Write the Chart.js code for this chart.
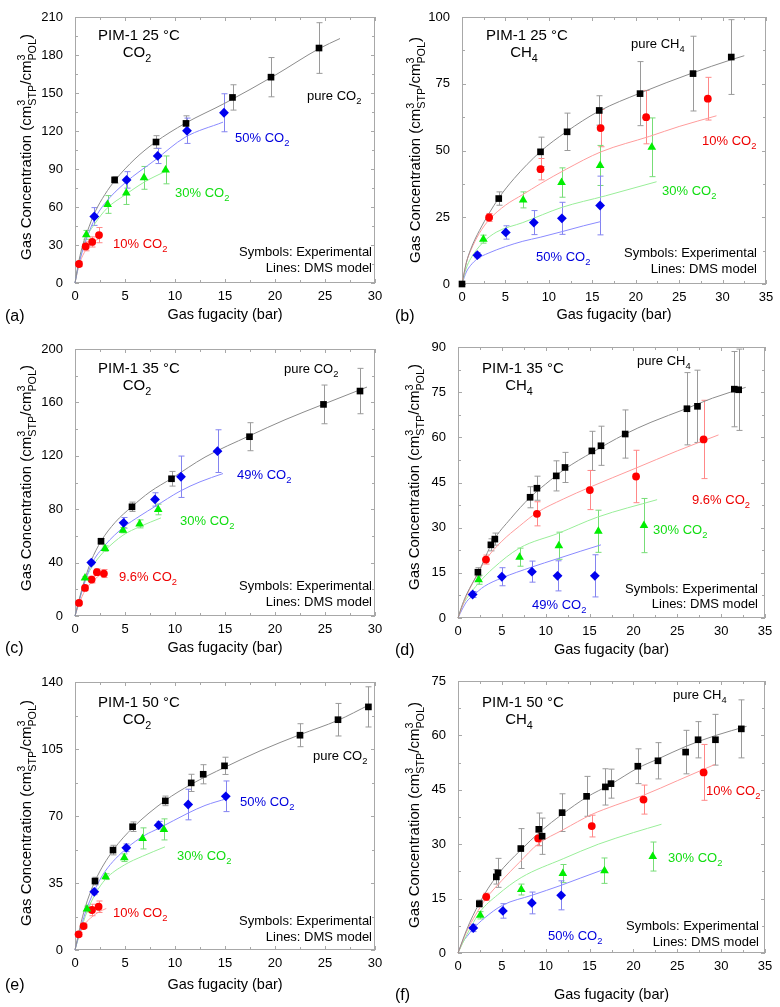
<!DOCTYPE html>
<html lang="en">
<head>
<meta charset="UTF-8">
<title>PIM-1 mixed-gas sorption, DMS model</title>
<script src="https://cdn.jsdelivr.net/npm/chart.js"></script>
<style>
  html, body { margin: 0; padding: 0; background: #fff; }
  #wrap { position: relative; width: 780px; height: 1007px; }
  #wrap canvas { position: absolute; }
</style>
</head>
<body>
<div id="wrap">
  <canvas id="pa" width="390" height="335" style="left:0;top:0"></canvas>
  <canvas id="pb" width="390" height="335" style="left:390px;top:0"></canvas>
  <canvas id="pc" width="390" height="335" style="left:0;top:335px"></canvas>
  <canvas id="pd" width="390" height="335" style="left:390px;top:335px"></canvas>
  <canvas id="pe" width="390" height="337" style="left:0;top:670px"></canvas>
  <canvas id="pf" width="390" height="337" style="left:390px;top:670px"></canvas>
</div>
<script>
// experimental points: [fugacity (bar), concentration, error]
// model lines (DMS): [fugacity, concentration]

// (a) 25 C, CO2
const aPure = [[3.96,81.4,2.5],[8.1,111.3,5],[11.1,126,6],[15.75,146.5,10],[19.6,162.5,15.5],[24.4,185.5,20]];
const a50 = [[1.93,52.5,7],[5.16,81.4,6.5],[8.27,100.3,6],[11.2,120.2,10],[14.9,134.4,15]];
const a30 = [[1.13,38,3.5],[3.26,62,7],[5.13,71,9],[6.9,83,9],[9.06,89.3,11]];
const a10 = [[0.4,15,2],[1.07,28.9,3.5],[1.72,32.4,4],[2.4,37.8,6]];
const aPureFit = [[0,0],[0.3,14],[0.7,28],[1.2,40],[2,56],[3,70],[4,81],[6,98],[8,111],[11,126],[15,142],[20,164],[24.4,185],[26.5,193]];
const a50Fit = [[0,0],[0.3,12],[0.7,24],[1.2,36],[2,51],[3,63],[5,79],[8,97],[11,115],[14.8,127]];
const a30Fit = [[0,0],[0.3,12],[0.7,25],[1.1,35],[2,47],[3.2,59],[5,69.5],[7,80],[9,88]];
const a10Fit = [[0,0],[0.4,14],[1,25],[1.7,31.5],[2.6,36]];

// (b) 25 C, CH4
const bPure = [[0,0,0],[4.23,32,2.5],[9.04,49.5,5.5],[12.1,57,7],[15.8,65,5.5],[20.5,71.3,12],[26.6,78.8,14],[31,85,14]];
const b10 = [[3.12,24.9,1.5],[9.04,43,4],[15.96,58.4,7],[21.2,62.5,10],[28.3,69.4,8]];
const b30 = [[2.46,16.8,1.5],[7.04,31.5,3],[11.46,38,5.5],[15.9,44.4,7.5],[21.85,51.2,11]];
const b50 = [[1.77,10.8,1],[5.04,19.3,2.5],[8.27,23,4.5],[11.5,24.6,6],[15.9,29.4,11]];
const bPureFit = [[0,0],[0.5,8],[1,13],[2,20],[4.2,32],[6,39.5],[9,49.5],[12,57],[15.8,64.8],[20.5,71.5],[26.5,79],[31,84],[32.5,85.5]];
const b10Fit = [[0,0],[0.5,8],[1,12.5],[2,19],[3.1,24],[5,29.5],[7,33.5],[9,37.5],[12,43],[16,49.5],[21.6,55.3],[25,59],[29.3,63]];
const b30Fit = [[0,0],[0.5,6],[1,9.5],[2.4,15.5],[4,19.5],[7,23],[11.5,28.7],[16.5,33],[22.4,38.3]];
const b50Fit = [[0,0],[0.5,4.5],[1,7],[1.8,9.5],[3,11.5],[5,14],[7,16],[9,17.5],[11.5,19.6],[14,21.8],[16,23.4]];

// (c) 35 C, CO2
const cPure = [[2.6,56,2],[5.7,81.8,3.5],[9.65,102.8,5.5],[17.45,134.3,10.5],[24.85,158.5,14.5],[28.5,168.5,17]];
const c49 = [[1.63,40,1.5],[4.86,69.8,4],[8.0,87.3,5],[10.6,104.3,15.5],[14.25,123.5,16]];
const c30 = [[1.0,28.5,1],[3.0,50.5,2],[4.8,64.3,2],[6.46,69,3],[8.32,79.8,4]];
const c96 = [[0.4,9.8,1],[1.0,21,2],[1.66,27.3,2.5],[2.19,32.8,2.5],[2.89,31.8,3]];
const cPureFit = [[0,0],[0.4,12],[0.8,23],[1.6,41],[2.6,56],[4,70],[5.7,82],[7.5,93],[9.65,103],[13,119],[17.45,135],[21,147],[24.8,158.5],[29.2,171.5]];
const c49Fit = [[0,0],[0.4,11],[0.8,21],[1.6,38],[3,53],[4.86,66.5],[6.5,75],[8,82],[10.5,93.5],[12.5,100.5],[14.8,106.7]];
const c30Fit = [[0,0],[0.4,11],[1,26.5],[2,40],[3,49],[4.8,60.5],[6.5,67],[8.6,73.5]];
const c96Fit = [[0,0],[0.4,9],[1,19],[1.7,25.5],[2.2,29],[3.06,34]];

// (d) 35 C, CH4
const dPure = [[2.27,15.2,1.5],[3.75,24.3,2],[4.2,26.2,2],[8.22,40.1,3.5],[9.0,43.1,4],[11.2,47.2,5],[12.2,50,5],[15.26,55.5,6.5],[16.3,57.2,6.5],[19.06,61.1,8],[26.1,69.5,12],[27.3,70.3,12],[31.5,76,12.5],[32,75.8,13.5]];
const d96 = [[3.19,19.4,1.5],[9.0,34.6,4],[15.03,42.5,6.5],[20.3,47,8.7],[28,59.3,13]];
const d30 = [[2.35,12.7,1.5],[7.02,20.2,3],[11.5,24,4.5],[16.0,28.8,7],[21.2,30.7,9]];
const d49 = [[1.67,7.8,1],[5.0,13.7,3],[8.43,15.4,3.5],[11.35,14,5],[15.6,14,7]];
const dPureFit = [[0,0],[0.5,4.5],[1,8],[2.3,15],[4,25.5],[6,33],[8.2,40],[10,44.5],[12.2,49.5],[15.3,55],[19,61],[22,65],[26,69.5],[29,73],[32.8,76.6]];
const d96Fit = [[0,0],[0.5,4],[1,7.5],[2,13.5],[3.2,19.5],[5,25.5],[7,30.5],[9,35],[12,39.5],[15,43.4],[20.3,49.8],[25,55.5],[29.7,60.8]];
const d30Fit = [[0,0],[0.5,4],[1,6.5],[2.35,11.6],[4,16.5],[7,23.2],[11.5,28.2],[15.9,33.5],[22.7,39.3]];
const d49Fit = [[0,0],[0.5,3],[1,5.5],[1.7,7.4],[3,10.5],[5,13.3],[8.4,16.9],[11.35,19.7],[14,22.2],[16.3,24.3]];

// (e) 50 C, CO2
const ePure = [[2.0,36,2],[3.8,52.2,2.5],[5.76,64.4,2.5],[9.03,77.9,2.5],[11.62,87.3,4.5],[12.82,91.8,5],[14.95,96.2,4.5],[22.5,112.2,6],[26.3,120.3,8.5],[29.34,127,10.5]];
const e50 = [[1.93,30.4,1.5],[5.13,53.4,2],[8.36,65.2,2],[11.32,76,8],[15.08,80.3,8]];
const e30 = [[1.2,21.4,1.5],[3.06,38.3,1.5],[4.93,48.2,2],[6.76,58.3,5.5],[8.89,63,5.5]];
const e10 = [[0.36,8.2,1],[0.86,12.5,1],[1.7,20.9,3],[2.36,22.6,3]];
const ePureFit = [[0,0],[0.5,12],[1,22],[2,36],[3.8,52],[5.8,64],[9,78],[11.6,86.5],[15,95.5],[18.5,104],[22.5,112.5],[26.3,120],[29.4,128]];
const e50Fit = [[0,0],[0.5,10],[1,19],[1.93,31],[3,41],[5.13,53],[7,60],[8.36,63.5],[11.3,71.5],[13,75.5],[15.2,79.1]];
const e30Fit = [[0,0],[0.5,9],[1.2,20],[2,29],[3.06,37],[4.93,44.4],[6.76,49],[9,53.9]];
const e10Fit = [[0,0],[0.36,7],[1.06,14],[1.7,17.3],[2.36,19.8],[3.13,21.7]];

// (f) 50 C, CH4
const fPure = [[2.43,13.6,1],[4.37,21,2],[4.56,22.1,4],[7.16,28.8,5.5],[9.21,34.1,4.5],[9.59,32.2,5],[11.87,38.7,5.2],[14.66,43.2,5.5],[16.8,45.8,5],[17.44,46.7,4],[20.5,51.5,4.8],[22.8,53,5],[25.95,55.4,6],[27.37,58.8,5],[29.35,58.8,7],[32.3,61.8,8]];
const f10 = [[3.22,15.5,1],[9.14,31.6,2],[15.25,35,3],[21.15,42.3,4],[28,49.8,7.7]];
const f30 = [[2.54,10.4,1],[7.21,17.5,1.5],[11.95,21.9,2.5],[16.7,22.7,3.5],[22.2,26.6,4]];
const f50 = [[1.74,6.9,1],[5.12,11.6,2],[8.42,13.8,3],[11.76,15.9,4]];
const fPureFit = [[0,0],[1,6.5],[2.4,13.6],[4.5,21.5],[7.2,28.5],[9.4,33.5],[11.9,38.3],[14.7,43],[17.4,46.5],[20.5,51],[22.8,53.5],[26,57],[29.4,60],[32.9,62.5]];
const f10Fit = [[0,0],[1,6],[2,10.5],[3.2,15],[5,20],[7,25],[9.1,30],[12,34],[15.25,38.2],[18,40.8],[21.15,43.5],[25,47.5],[29.3,52]];
const f30Fit = [[0,0],[1,5],[2.5,11.3],[4.5,16],[7.2,20.8],[12,26],[16,30],[20,33.2],[23.2,35.5]];
const f50Fit = [[0,0],[0.5,2.8],[1,4.5],[1.74,6.7],[3,9.6],[5.1,13.2],[8.4,15.9],[11.8,18.7],[14,20.7],[16.7,23.1]];

// axes
const xMaxes = [30, 35, 30, 35, 30, 35];
const yMaxes = [210, 100, 200, 90, 140, 75];
const ySteps = [30, 25, 40, 15, 35, 15];
const xStep = 5;

// texts ("_" starts a subscript)
const panelTitles = ['PIM-1 25 °C', 'PIM-1 25 °C', 'PIM-1 35 °C', 'PIM-1 35 °C', 'PIM-1 50 °C', 'PIM-1 50 °C'];
const panelGases = ['CO_2', 'CH_4', 'CO_2', 'CH_4', 'CO_2', 'CH_4'];
const panelLetters = ['(a)', '(b)', '(c)', '(d)', '(e)', '(f)'];
const seriesNames = [
  ['pure CO_2', '50% CO_2', '30% CO_2', '10% CO_2'],
  ['pure CH_4', '10% CO_2', '30% CO_2', '50% CO_2'],
  ['pure CO_2', '49% CO_2', '30% CO_2', '9.6% CO_2'],
  ['pure CH_4', '9.6% CO_2', '30% CO_2', '49% CO_2'],
  ['pure CO_2', '50% CO_2', '30% CO_2', '10% CO_2'],
  ['pure CH_4', '10% CO_2', '30% CO_2', '50% CO_2']
];
const noteSymbols = 'Symbols: Experimental';
const noteLines = 'Lines: DMS model';
const xTitle = 'Gas fugacity (bar)';
const yTitleParts = [{t: 'Gas Concentration (cm'}, {sup: '3', sub: 'STP'}, {t: '/cm'}, {sup: '3', sub: 'POL'}, {t: ')'}];

const seriesData = [
  [[aPure, aPureFit], [a50, a50Fit], [a30, a30Fit], [a10, a10Fit]],
  [[bPure, bPureFit], [b10, b10Fit], [b30, b30Fit], [b50, b50Fit]],
  [[cPure, cPureFit], [c49, c49Fit], [c30, c30Fit], [c96, c96Fit]],
  [[dPure, dPureFit], [d96, d96Fit], [d30, d30Fit], [d49, d49Fit]],
  [[ePure, ePureFit], [e50, e50Fit], [e30, e30Fit], [e10, e10Fit]],
  [[fPure, fPureFit], [f10, f10Fit], [f30, f30Fit], [f50, f50Fit]]
];
const seriesColors = [
  ['black', 'blue', 'green', 'red'],
  ['black', 'red', 'green', 'blue'],
  ['black', 'blue', 'green', 'red'],
  ['black', 'red', 'green', 'blue'],
  ['black', 'blue', 'green', 'red'],
  ['black', 'red', 'green', 'blue']
];

const styles = {
  black: {shape: 'rect', r: 4.7, fill: '#000000', line: '#8c8c8c', err: '#9a9a9a', text: '#000000'},
  blue: {shape: 'rectRot', r: 4.9, fill: '#0000ee', line: '#8a8aff', err: '#8484f0', text: '#0000dd'},
  green: {shape: 'triangle', r: 5.0, fill: '#00ee00', line: '#99ee99', err: '#77dd77', text: '#11dd11'},
  red: {shape: 'circle', r: 3.9, fill: '#ff0000', line: '#ff9c9c', err: '#ff8888', text: '#ee0000'}
};

// plot boxes [left, right, top, bottom] in canvas pixels, and text spots
const layout = [
  {h: 335, box: [75, 375, 17, 283], title: [139, 40], gas: [137, 57], names: [[307, 100], [235, 142], [175, 197], [113, 248]], sym: [372, 256], lines: [372, 272], letter: [5, 321], xt: 319, yt: [31, 147]},
  {h: 335, box: [72, 376, 17, 284], title: [137, 40], gas: [134, 57], names: [[241, 48], [312, 145], [272, 195], [146, 261]], sym: [367, 257], lines: [367, 273], letter: [5, 321], xt: 319, yt: [30, 150]},
  {h: 335, box: [75, 375, 14, 281], title: [139, 38], gas: [137, 55], names: [[284, 38], [237, 144], [180, 190], [119, 246]], sym: [372, 255], lines: [372, 271], letter: [5, 318], xt: 317, yt: [31, 143]},
  {h: 335, box: [68, 375, 12, 283], title: [133, 38], gas: [129, 55], names: [[247, 30], [302, 169], [263, 199], [142, 274]], sym: [368, 258], lines: [368, 273], letter: [5, 320], xt: 319, yt: [29, 142]},
  {h: 337, box: [75, 375, 12, 280], title: [139, 37], gas: [137, 54], names: [[313, 90], [240, 136], [177, 190], [113, 247]], sym: [372, 255], lines: [372, 271], letter: [5, 320], xt: 319, yt: [31, 143]},
  {h: 337, box: [68, 375, 11, 283], title: [133, 37], gas: [129, 54], names: [[283, 29], [316, 125], [278, 192], [158, 270]], sym: [369, 260], lines: [369, 276], letter: [5, 330], xt: 329, yt: [29, 145]}
];
const canvasIds = ['pa', 'pb', 'pc', 'pd', 'pe', 'pf'];
const FONT = '"Liberation Sans", Arial, Helvetica, sans-serif';

function parts(s) {
  const i = s.indexOf('_');
  if (i < 0) return [{t: s}];
  return [{t: s.slice(0, i)}, {sub: s.slice(i + 1)}];
}

function partsWidth(ctx, ps, size) {
  let w = 0;
  ps.forEach(p => {
    if (p.t !== undefined) {
      ctx.font = size + 'px ' + FONT;
      w += ctx.measureText(p.t).width;
    } else {
      ctx.font = (size * 0.72) + 'px ' + FONT;
      w += Math.max(p.sup ? ctx.measureText(p.sup).width : 0, p.sub ? ctx.measureText(p.sub).width : 0);
    }
  });
  return w;
}

function drawParts(ctx, ps, x, y, size, color, align) {
  const w = partsWidth(ctx, ps, size);
  let cx = align === 'center' ? x - w / 2 : align === 'right' ? x - w : x;
  ctx.fillStyle = color;
  ctx.textAlign = 'left';
  ctx.textBaseline = 'alphabetic';
  ps.forEach(p => {
    if (p.t !== undefined) {
      ctx.font = size + 'px ' + FONT;
      ctx.fillText(p.t, cx, y);
      cx += ctx.measureText(p.t).width;
    } else {
      ctx.font = (size * 0.72) + 'px ' + FONT;
      let ww = 0;
      if (p.sup) { ctx.fillText(p.sup, cx, y - size * 0.42); ww = ctx.measureText(p.sup).width; }
      if (p.sub) { ctx.fillText(p.sub, cx, y + size * 0.3); ww = Math.max(ww, ctx.measureText(p.sub).width); }
      cx += ww;
    }
  });
}

function decor(k) {
  const L = layout[k];
  return {
    id: 'decor',
    beforeDatasetsDraw(chart) {
      const {ctx, chartArea: a, scales: {x, y}} = chart;
      ctx.save();
      // frame with inward ticks on all sides
      ctx.strokeStyle = '#a8a8a8';
      ctx.lineWidth = 1;
      ctx.strokeRect(a.left + 0.5, a.top + 0.5, a.right - a.left - 1, a.bottom - a.top - 1);
      ctx.beginPath();
      for (let v = 0; v <= xMaxes[k] + 1e-9; v += xStep / 2) {
        const px = Math.round(x.getPixelForValue(v)) + 0.5;
        const len = Math.abs(v % xStep) < 1e-9 ? 4 : 3;
        ctx.moveTo(px, a.bottom); ctx.lineTo(px, a.bottom - len);
        ctx.moveTo(px, a.top); ctx.lineTo(px, a.top + len);
      }
      for (let v = 0; v <= yMaxes[k] + 1e-9; v += ySteps[k] / 2) {
        const py = Math.round(y.getPixelForValue(v)) + 0.5;
        const len = Math.abs(v % ySteps[k]) < 1e-9 ? 4 : 3;
        ctx.moveTo(a.left, py); ctx.lineTo(a.left + len, py);
        ctx.moveTo(a.right, py); ctx.lineTo(a.right - len, py);
      }
      ctx.stroke();
      // error bars
      chart.data.datasets.forEach(ds => {
        if (!ds.errs) return;
        ctx.strokeStyle = ds.errColor;
        ctx.beginPath();
        ds.data.forEach((pt, i) => {
          const e = ds.errs[i];
          if (!e) return;
          const px = Math.round(x.getPixelForValue(pt.x)) + 0.5;
          const y1 = y.getPixelForValue(pt.y + e), y2 = y.getPixelForValue(pt.y - e);
          ctx.moveTo(px, y1); ctx.lineTo(px, y2);
          ctx.moveTo(px - 3, y1); ctx.lineTo(px + 3, y1);
          ctx.moveTo(px - 3, y2); ctx.lineTo(px + 3, y2);
        });
        ctx.stroke();
      });
      ctx.restore();
    },
    afterDraw(chart) {
      const {ctx, chartArea: a} = chart;
      ctx.save();
      drawParts(ctx, [{t: panelTitles[k]}], L.title[0], L.title[1], 15, '#000', 'center');
      drawParts(ctx, parts(panelGases[k]), L.gas[0], L.gas[1], 15, '#000', 'center');
      seriesNames[k].forEach((nm, j) => {
        drawParts(ctx, parts(nm), L.names[j][0], L.names[j][1], 13, styles[seriesColors[k][j]].text, 'left');
      });
      drawParts(ctx, [{t: noteSymbols}], L.sym[0], L.sym[1], 13, '#000', 'right');
      drawParts(ctx, [{t: noteLines}], L.lines[0], L.lines[1], 13, '#000', 'right');
      drawParts(ctx, [{t: panelLetters[k]}], L.letter[0], L.letter[1], 16, '#000', 'left');
      drawParts(ctx, [{t: xTitle}], (a.left + a.right) / 2, L.xt, 14.5, '#000', 'center');
      ctx.translate(L.yt[0], L.yt[1]);
      ctx.rotate(-Math.PI / 2);
      drawParts(ctx, yTitleParts, 0, 0, 15, '#000', 'center');
      ctx.restore();
    }
  };
}

canvasIds.forEach((id, k) => {
  const L = layout[k];
  const [left, right, top, bottom] = L.box;
  const W = 390, H = L.h;
  const datasets = [];
  seriesData[k].forEach((sd, j) => {
    const st = styles[seriesColors[k][j]];
    datasets.push({
      data: sd[1].map(r => ({x: r[0], y: r[1]})),
      showLine: true, borderColor: st.line, borderWidth: 1,
      pointRadius: 0, cubicInterpolationMode: 'monotone',
      order: 2, clip: false
    });
    datasets.push({
      data: sd[0].map(r => ({x: r[0], y: r[1]})),
      errs: sd[0].map(r => r[2]), errColor: st.err,
      showLine: false, pointStyle: st.shape, pointRadius: st.r,
      pointBackgroundColor: st.fill, pointBorderColor: st.fill, pointBorderWidth: 0,
      order: 1, clip: false
    });
  });

  new Chart(document.getElementById(id), {
    type: 'scatter',
    data: {datasets},
    options: {
      responsive: false,
      animation: false,
      events: [],
      layout: {padding: {left: 0, right: W - right, top: top, bottom: 0}},
      plugins: {legend: {display: false}, tooltip: {enabled: false}},
      scales: {
        x: {
          type: 'linear', min: 0, max: xMaxes[k],
          ticks: {stepSize: xStep, padding: 6, color: '#000', font: {family: FONT, size: 13}, maxRotation: 0, autoSkip: false},
          grid: {display: false, drawTicks: false},
          border: {display: false},
          afterFit(s) { s.height = H - bottom; s.paddingLeft = 0; s.paddingRight = 0; }
        },
        y: {
          type: 'linear', min: 0, max: yMaxes[k],
          ticks: {stepSize: ySteps[k], padding: 12, color: '#000', font: {family: FONT, size: 13}, autoSkip: false},
          grid: {display: false, drawTicks: false},
          border: {display: false},
          afterFit(s) { s.width = left; s.paddingTop = 0; s.paddingBottom = 0; }
        }
      }
    },
    plugins: [decor(k)]
  });
});
</script>
</body>
</html>
